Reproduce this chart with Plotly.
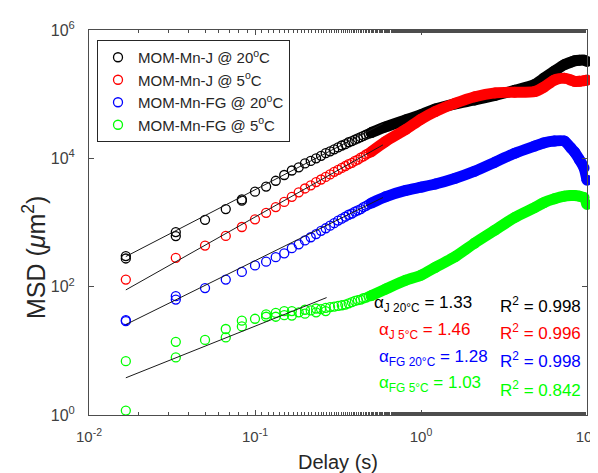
import plotly.graph_objects as go

FRAME_RATE = 60.0  # frames per second; lag (frames) -> delay (s)

# ---------------- series names / colours ----------------
SERIES_NAMES = ["MOM-Mn-J @ 20<sup>o</sup>C", "MOM-Mn-J @ 5<sup>o</sup>C",
                "MOM-Mn-FG @ 20<sup>o</sup>C", "MOM-Mn-FG @ 5<sup>o</sup>C"]
SERIES_COLORS = ["#000000", "#ff0000", "#0000ff", "#00ff00"]

# ---------------- short-lag points (individual circles) ----------------
J20_LAG = [1, 1, 2, 2, 3, 4, 5, 5, 6, 7, 8, 9, 10, 11, 12, 13, 14, 15, 16, 17, 18, 19, 20,
           21, 22, 23, 24, 25, 26, 27, 28, 29, 30]
J20_MSD = [300, 275, 710, 615, 1100, 1620, 2290, 2190, 3020, 3630, 4470, 5500,
           6460, 7240, 8320, 9120, 10000, 10960, 12020, 12880, 13800, 14790, 15850,
           16600, 17800, 18600, 19500, 20400, 21400, 22400, 23400, 24300, 25100]

J5_LAG = [1, 2, 3, 4, 5, 6, 7, 8, 9, 10, 11, 12, 13, 14, 15, 16, 17, 18, 19, 20,
          21, 22, 23, 24, 25, 26, 27, 28, 29, 30]
J5_MSD = [129, 282, 437, 617, 851, 1122, 1413, 1740, 2090, 2510, 2950, 3390, 3800, 4270,
          4680, 5130, 5620, 6170, 6610, 7080, 7590, 8130, 8510, 9120, 9550, 10230, 10720,
          11480, 12020, 12590]

FG20_LAG = [1, 1, 2, 2, 3, 4, 5, 6, 7, 8, 9, 10, 11, 12, 13, 14, 15, 16, 17, 18, 19, 20,
            21, 22, 23, 24, 25, 26, 27, 28, 29, 30]
FG20_MSD = [30, 29, 71, 63, 95, 129, 170, 214, 245, 288, 331, 398, 457, 525, 589, 661,
            741, 813, 891, 977, 1072, 1148, 1230, 1320, 1380, 1480, 1550, 1620, 1740,
            1820, 1910, 2000]

FG5_LAG = [1, 1, 2, 2, 3, 4, 4, 5, 5, 6, 7, 7, 8, 8, 9, 9, 10, 10, 11, 12, 12, 13, 14, 14,
           15, 16, 16, 17, 18, 19, 20, 21, 22, 23, 24, 25, 26, 27, 28, 29, 30]
FG5_MSD = [6.9, 1.17, 13.8, 7.9, 14.8, 21.9, 16.2, 29.5, 24, 31.6, 37, 34, 39, 34, 41.7,
           36, 41.7, 35.5, 39.8, 43.7, 38, 42.7, 45.7, 39.8, 44.7, 46.8, 41.7, 47.9, 49,
           50.1, 51.3, 52.5, 55, 57.5, 60, 61.7, 63, 66, 67.6, 70.8, 72.4]

# ---------------- long-lag points (dense, overlapping circles) ----------------
BAND_DELAY = [0.5, 0.61, 0.81, 1.0, 1.22, 1.61, 2.11, 2.79, 3.67, 4.83, 5.5, 6.36, 7.3,
              8.0, 8.4, 9.0, 9.6, 10.0]
J20_BAND = [25100, 30900, 39800, 47900, 58900, 70800, 81300, 95500, 114800, 141300,
            177800, 229100, 288400, 316200, 331100, 338800, 338800, 323600]
J5_BAND = [12590, 18200, 28200, 40700, 53700, 72400, 91200, 104700, 107200, 109600,
           128800, 166000, 177800, 166000, 158500, 158500, 162200, 166000]
FG20_BAND = [2000, 2510, 3160, 3550, 3980, 4900, 6310, 8710, 12000, 15500, 17400, 18600,
             18600, 14500, 12600, 9550, 7080, 4570]
FG5_BAND = [72.4, 91.2, 126, 151, 200, 295, 479, 759, 1200, 1700, 2040, 2340, 2570, 2630,
            2630, 2570, 2450, 1910]

# ---------------- power-law fit lines (end points) ----------------
FIT_DELAY = [[0.01667, 0.59], [0.01667, 0.59], [0.01667, 0.59], [0.01667, 0.27]]
FIT_MSD = [[295, 34700], [89, 16200], [25.7, 2450], [3.8, 67.6]]

# ---------------- fit statistics ----------------
ALPHA_SUB = ["J 20°C", "J 5°C", "FG 20°C", "FG 5°C"]
ALPHA_VAL = ["1.33", "1.46", "1.28", "1.03"]
R2_VAL = ["0.998", "0.996", "0.998", "0.842"]

X_TICKVALS = [0.01, 0.1, 1, 10]
X_TICKTEXT = ["10<sup>-2</sup>", "10<sup>-1</sup>", "10<sup>0</sup>", "10<sup>1</sup>"]
Y_TICKVALS = [1, 100, 1e4, 1e6]
Y_TICKTEXT = ["10<sup>0</sup>", "10<sup>2</sup>", "10<sup>4</sup>", "10<sup>6</sup>"]

FONT = "Liberation Sans, Arial, sans-serif"
W, H = 598, 473
ML, MR, MT, MB = 81, 19, 22, 66
PW, PH = W - ML - MR, H - MT - MB

fig = go.Figure()

lags = [J20_LAG, J5_LAG, FG20_LAG, FG5_LAG]
msds = [J20_MSD, J5_MSD, FG20_MSD, FG5_MSD]
bands = [J20_BAND, J5_BAND, FG20_BAND, FG5_BAND]

for i in range(4):
    col = SERIES_COLORS[i]
    fig.add_trace(go.Scatter(
        x=BAND_DELAY, y=bands[i], mode="lines+markers", showlegend=False,
        line=dict(color=col, width=11, shape="spline", smoothing=0.6),
        marker=dict(color=col, size=11, symbol="circle", line=dict(width=0)),
        hoverinfo="skip", cliponaxis=False))
    fig.add_trace(go.Scatter(
        x=[l / FRAME_RATE for l in lags[i]], y=msds[i], mode="markers",
        name=SERIES_NAMES[i], cliponaxis=False,
        marker=dict(symbol="circle-open", size=9, color=col, line=dict(width=1.3, color=col))))

for i in range(4):
    fig.add_trace(go.Scatter(
        x=FIT_DELAY[i], y=FIT_MSD[i], mode="lines", showlegend=False,
        line=dict(color="#1a1a1a", width=1), hoverinfo="skip"))

def px_x(p):
    return (p - ML) / PW

def px_y(p):
    return (H - MB - p) / PH

alpha_x = [364, 369, 369, 369]
row_y = [296, 323, 350, 376]
r2_y = [297, 324, 352, 381]
for i in range(4):
    col = SERIES_COLORS[i]
    fig.add_annotation(
        x=px_x(alpha_x[i]), y=px_y(row_y[i]), xref="paper", yref="paper",
        xanchor="left", yanchor="middle", showarrow=False,
        text="α<sub>%s</sub> = %s" % (ALPHA_SUB[i], ALPHA_VAL[i]),
        font=dict(family=FONT, size=17, color=col))
    fig.add_annotation(
        x=px_x(490), y=px_y(r2_y[i]), xref="paper", yref="paper",
        xanchor="left", yanchor="middle", showarrow=False,
        text="R<sup>2</sup> = %s" % R2_VAL[i],
        font=dict(family=FONT, size=17, color=col))

# y-axis title (placed as in the reference, slightly below the axis centre)
fig.add_annotation(
    x=px_x(26), y=px_y(250), xref="paper", yref="paper", xanchor="center",
    yanchor="middle", showarrow=False, textangle=-90,
    text="MSD (<i>μ</i>m<sup>2</sup>)",
    font=dict(family=FONT, size=25, color="#262626"))

axis_common = dict(
    type="log", showgrid=False, zeroline=False, showline=True, linecolor="#4d4d4d",
    linewidth=1, mirror="ticks", ticks="inside", tickcolor="#4d4d4d", ticklen=5)

fig.update_xaxes(
    **axis_common, range=[-2, 1], tickmode="array", tickvals=X_TICKVALS,
    ticktext=X_TICKTEXT, ticklabelstandoff=8,
    tickfont=dict(family=FONT, size=15, color="#404040"),
    minor=dict(ticks="inside", ticklen=3, tickcolor="#4d4d4d", showgrid=False),
    title=dict(text="Delay (s)", font=dict(family=FONT, size=20, color="#262626"),
               standoff=10))
fig.update_yaxes(
    **axis_common, range=[0, 6], tickmode="array", tickvals=Y_TICKVALS,
    ticktext=Y_TICKTEXT, ticklabelstandoff=10,
    tickfont=dict(family=FONT, size=16, color="#404040"))

fig.update_layout(
    width=W, height=H, margin=dict(l=ML, r=MR, t=MT, b=MB, autoexpand=False),
    paper_bgcolor="white", plot_bgcolor="white",
    font=dict(family=FONT, color="#262626"),
    legend=dict(x=px_x(89), y=px_y(32), xanchor="left", yanchor="top",
                bgcolor="white", bordercolor="#262626", borderwidth=1,
                font=dict(family=FONT, size=15, color="#262626"),
                itemwidth=30, tracegroupgap=0),
)

fig.write_html("out.html")
